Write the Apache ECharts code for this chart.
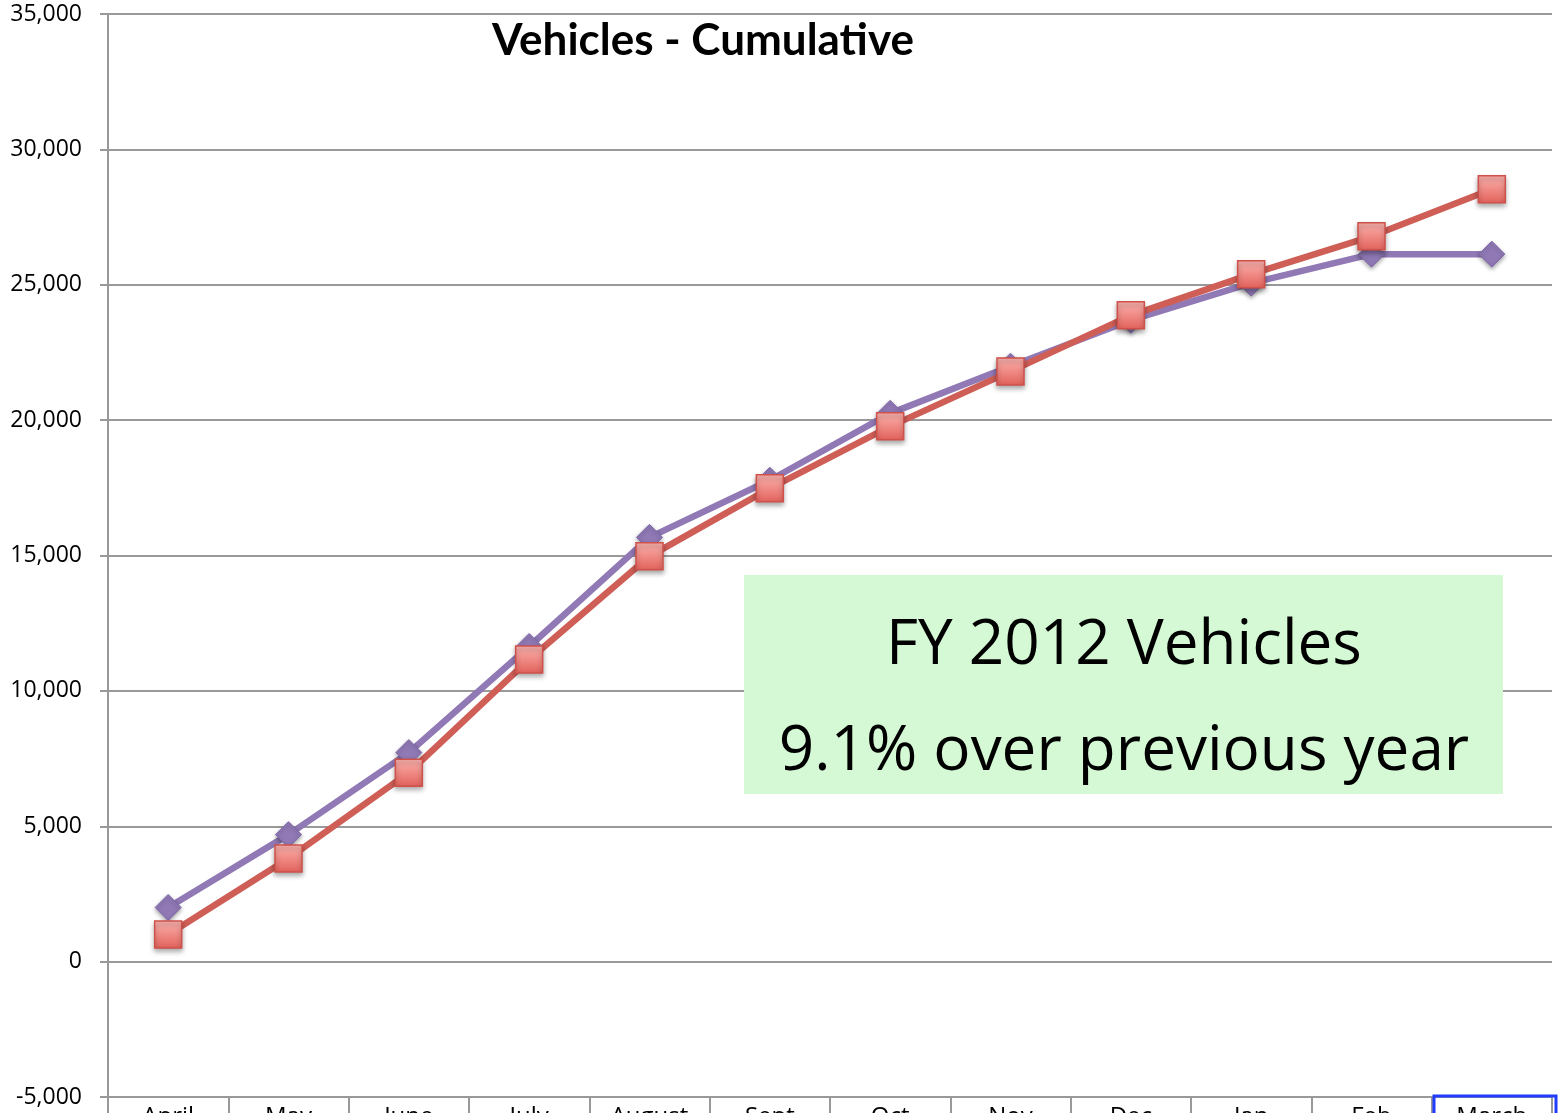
<!DOCTYPE html>
<html>
<head>
<meta charset="utf-8">
<script src="https://cdn.jsdelivr.net/npm/echarts@6/dist/echarts.min.js"></script>
<style>
html,body{margin:0;padding:0;background:#fff;}
#chart{width:1558px;height:1113px;}
</style>
</head>
<body>
<div id="chart"></div>
<script>
var categories = ['April','May','June','July','August','Sept','Oct','Nov','Dec','Jan','Feb','March'];
var previousYear = [2000, 4690, 7720, 11640, 15670, 17780, 20250, 21990, 23690, 25060, 26130, 26130];
var fy2012 = [1000, 3810, 6980, 11160, 14970, 17480, 19770, 21800, 23870, 25390, 26790, 28530];
var yTicks = { min: -5000, max: 35000, interval: 5000 };
var titleText = 'Vehicles - Cumulative';
var noteLines = ['FY 2012 Vehicles', '9.1% over previous year'];

var chart = echarts.init(document.getElementById('chart'));
var squareFill = new echarts.graphic.LinearGradient(0,0,0,1,[
  {offset:0,color:'#fbb4b0'},{offset:0.5,color:'#f08a84'},{offset:1,color:'#e2615b'}]);
chart.setOption({
  animation:false,
  backgroundColor:'#ffffff',
  title:{text:titleText,left:698,top:14,textAlign:'center',
    textStyle:{fontFamily:'Lato',fontWeight:'bold',fontSize:44,color:'#000'}},
  grid:{left:108,right:6,top:14,bottom:16,containLabel:false,outerBoundsMode:'none'},
  xAxis:{type:'category',data:categories,boundaryGap:true,
    axisLine:{onZero:false,lineStyle:{color:'#999',width:2}},
    axisTick:{show:true,length:30,lineStyle:{color:'#999',width:2}},
    axisLabel:{margin:8,fontFamily:'Open Sans',fontSize:24,color:'#000'},
    splitLine:{show:false}},
  yAxis:{type:'value',min:yTicks.min,max:yTicks.max,interval:yTicks.interval,
    axisLine:{show:true,lineStyle:{color:'#999',width:2}},
    axisTick:{show:true,length:8,lineStyle:{color:'#999',width:2}},
    axisLabel:{margin:26,fontFamily:'Open Sans',fontSize:23,color:'#000',
      formatter:function(v){return v.toLocaleString('en-US');}},
    splitLine:{show:true,lineStyle:{color:'#999',width:2}}},
  series:[
    {name:'Previous year',type:'line',data:previousYear,symbol:'diamond',symbolSize:[26,26],
      lineStyle:{color:'#9079b5',width:6.5},
      itemStyle:{color:'#9079b5',borderColor:'#8068aa',borderWidth:1,shadowBlur:4,shadowColor:'rgba(0,0,0,0.35)',shadowOffsetY:2}},
    {name:'FY 2012',type:'line',data:fy2012,symbol:'rect',symbolSize:[27,27],
      lineStyle:{color:'#cf5e57',width:6.5},
      itemStyle:{color:squareFill,borderColor:'#d0504a',borderWidth:1.5,shadowBlur:5,shadowColor:'rgba(0,0,0,0.35)',shadowOffsetY:3}}
  ],
  graphic:[
    {type:'rect',shape:{x:744,y:575,width:759,height:219},style:{fill:'#d5f9d5'},z:100},
    {type:'text',x:1124,y:646,style:{text:noteLines[0],fontFamily:'Open Sans',fontSize:62,fill:'#000',textAlign:'center',textVerticalAlign:'middle'},z:101},
    {type:'text',x:1124,y:752,style:{text:noteLines[1],fontFamily:'Open Sans',fontSize:62,fill:'#000',textAlign:'center',textVerticalAlign:'middle'},z:101},
    {type:'rect',shape:{x:1434,y:1096,width:122,height:30},style:{fill:'none',stroke:'#1f3cff',lineWidth:3},z:102}
  ]
});
</script>
</body>
</html>
